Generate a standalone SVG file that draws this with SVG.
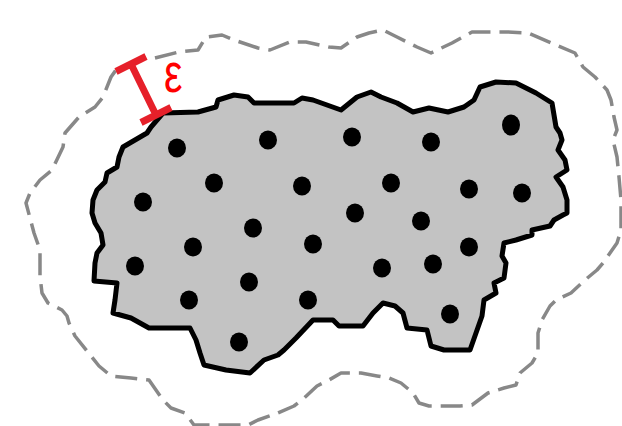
<svg xmlns="http://www.w3.org/2000/svg" width="622" height="426" viewBox="0 0 622 426">
<style>
.region{fill:#c3c3c3;stroke:#000;stroke-width:5;stroke-linejoin:round}
.eps{fill:none;stroke:#888;stroke-width:3.5;stroke-dasharray:22 9;stroke-linejoin:round}
.dot{fill:#000}
.bar{stroke:#e6202a;stroke-width:7;stroke-linecap:butt;fill:none}
.lbl{font-family:"Liberation Sans","DejaVu Sans",sans-serif;fill:#ff0000}
</style>
<rect width="622" height="426" fill="#fff"/>
<g id="neighborhood">
<path class="eps" d="M155,58 L179,52 L198,50 L206,37 L222,35 L234,40 L258,48 L270,50 L290,42 L306,42 L329,47 L341,48 L357,37 L369,33 L383,30 L397,37 L417,47 L431,53 L452,43 L472,32 L508,32 L528,33 L556,45 L575,53 L583,67 L595,77 L607,90 L611,100 L614,117 L617,130 L613,140 L617,157 L619,177 L621,200 L621,230 L617,243 L603,263 L597,270 L585,280 L571,293 L556,300 L550,306 L542,320 L538,333 L538,353 L532,363 L520,373 L516,385 L504,388 L488,393 L472,405 L460,406 L429,406 L419,403 L413,393 L401,383 L389,378 L377,376 L361,373 L341,373 L329,380 L317,386 L302,400 L294,406 L278,413 L258,420 L248,425 L194,425 L185,413 L171,408 L163,400 L149,380 L131,378 L111,376 L99,366 L91,356 L75,336 L69,323 L67,316 L62,310 L48,303 L42,293 L40,276 L40,250 L34,233 L30,218 L26,203 L30,193 L40,180 L52,170 L63,147 L65,133 L79,117 L95,107 L103,97 L111,77 L116,70"/>
</g>
<g id="region">
<path class="region" d="M163,113 L198,112 L216,107 L218,100 L234,95 L248,97 L254,103 L294,103 L302,98 L313,100 L341,110 L357,97 L371,92 L381,97 L397,103 L413,112 L429,108 L448,112 L464,107 L474,100 L480,87 L496,82 L516,83 L536,93 L552,103 L556,127 L560,133 L562,140 L558,150 L565,160 L567,170 L556,177 L563,187 L567,200 L567,213 L563,215 L554,220 L550,226 L532,230 L532,235 L516,240 L504,243 L502,256 L506,263 L504,278 L494,283 L496,293 L484,300 L482,316 L476,333 L470,350 L444,350 L431,346 L427,330 L407,328 L403,313 L395,306 L383,303 L373,313 L363,326 L339,326 L333,320 L313,320 L296,338 L284,350 L278,355 L264,360 L250,373 L226,370 L204,365 L200,353 L196,340 L190,328 L149,328 L131,318 L113,313 L115,300 L117,283 L94,281 L95,263 L97,253 L103,245 L101,233 L95,223 L92,213 L93,200 L97,190 L105,182 L107,173 L117,167 L119,157 L123,147 L135,140 L147,133 L151,127 Z"/>
</g>
<g id="points">
<ellipse class="dot" cx="177" cy="148" rx="9" ry="9.5"/>
<ellipse class="dot" cx="268" cy="140" rx="9" ry="9.5"/>
<ellipse class="dot" cx="352" cy="137" rx="9" ry="9.5"/>
<ellipse class="dot" cx="431" cy="142" rx="9" ry="9.5"/>
<ellipse class="dot" cx="511" cy="125" rx="9" ry="10.5"/>
<ellipse class="dot" cx="214" cy="183" rx="9" ry="9.5"/>
<ellipse class="dot" cx="302" cy="186" rx="9" ry="9.5"/>
<ellipse class="dot" cx="391" cy="183" rx="9" ry="9.5"/>
<ellipse class="dot" cx="469" cy="189" rx="9" ry="9.5"/>
<ellipse class="dot" cx="522" cy="193" rx="9" ry="9.5"/>
<ellipse class="dot" cx="143" cy="202" rx="9" ry="9.5"/>
<ellipse class="dot" cx="355" cy="213" rx="9" ry="9.5"/>
<ellipse class="dot" cx="421" cy="221" rx="9" ry="9.5"/>
<ellipse class="dot" cx="253" cy="228" rx="9" ry="9.5"/>
<ellipse class="dot" cx="193" cy="247" rx="9" ry="9.5"/>
<ellipse class="dot" cx="313" cy="244" rx="9" ry="9.5"/>
<ellipse class="dot" cx="469" cy="247" rx="9" ry="9.5"/>
<ellipse class="dot" cx="135" cy="266" rx="9" ry="9.5"/>
<ellipse class="dot" cx="382" cy="268" rx="9" ry="9.5"/>
<ellipse class="dot" cx="433" cy="264" rx="9" ry="9.5"/>
<ellipse class="dot" cx="249" cy="282" rx="9" ry="9.5"/>
<ellipse class="dot" cx="189" cy="300" rx="9" ry="9.5"/>
<ellipse class="dot" cx="308" cy="300" rx="9" ry="9.5"/>
<ellipse class="dot" cx="450" cy="314" rx="9" ry="9.5"/>
<ellipse class="dot" cx="239" cy="342" rx="9" ry="9.5"/>
</g>
<g id="epsilon">
<path class="bar" d="M131,64 L156,115 M116,71.5 L146,56.5 M141,122.5 L171,107.5"/>
<text class="lbl" font-size="46" transform="translate(164,92) scale(0.9,1.2)">ε</text>
</g>
</svg>
